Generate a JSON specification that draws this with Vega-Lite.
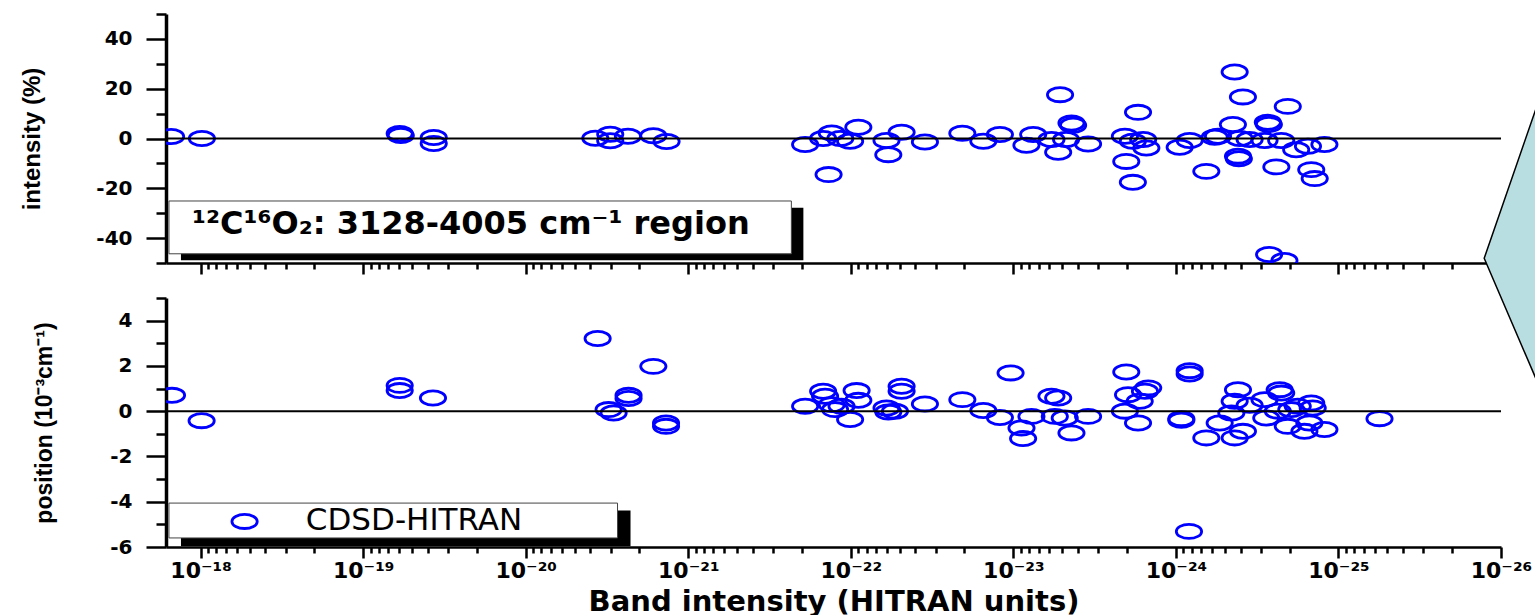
{
  "$schema": "https://vega.github.io/schema/vega-lite/v6.json",
  "background": "white",
  "padding": {"left": 20, "top": 12, "right": 5, "bottom": 5},
  "bounds": "flush",
  "spacing": 35,
  "config": {
    "view": {"stroke": null},
    "axis": {"grid": false, "domainColor": "black", "tickColor": "black", "labelColor": "black", "titleColor": "black"}
  },
  "datasets": {
    "intensity": [
      {"band_intensity": 1.52e-18, "deviation": 0.8}, {"band_intensity": 9.82e-19, "deviation": 0.0},
      {"band_intensity": 5.96e-20, "deviation": 2.0}, {"band_intensity": 5.87e-20, "deviation": 1.2},
      {"band_intensity": 3.68e-20, "deviation": 0.4}, {"band_intensity": 3.68e-20, "deviation": -2.0},
      {"band_intensity": 3.73e-21, "deviation": 0.1}, {"band_intensity": 3.02e-21, "deviation": 1.7},
      {"band_intensity": 3.02e-21, "deviation": -0.9}, {"band_intensity": 2.35e-21, "deviation": 0.9},
      {"band_intensity": 1.64e-21, "deviation": 1.1}, {"band_intensity": 1.36e-21, "deviation": -1.2},
      {"band_intensity": 1.91e-22, "deviation": -2.4}, {"band_intensity": 1.48e-22, "deviation": 0.0},
      {"band_intensity": 1.31e-22, "deviation": 2.2}, {"band_intensity": 1.37e-22, "deviation": -14.5},
      {"band_intensity": 1.16e-22, "deviation": 0.0}, {"band_intensity": 1.01e-22, "deviation": -1.1},
      {"band_intensity": 8.99e-23, "deviation": 4.5}, {"band_intensity": 6.03e-23, "deviation": -0.8},
      {"band_intensity": 5.88e-23, "deviation": -6.5}, {"band_intensity": 4.87e-23, "deviation": 2.5},
      {"band_intensity": 3.50e-23, "deviation": -1.4}, {"band_intensity": 2.06e-23, "deviation": 2.1},
      {"band_intensity": 1.53e-23, "deviation": -1.1}, {"band_intensity": 1.21e-23, "deviation": 1.6},
      {"band_intensity": 8.31e-24, "deviation": -2.7}, {"band_intensity": 7.55e-24, "deviation": 1.6},
      {"band_intensity": 5.83e-24, "deviation": -0.4}, {"band_intensity": 5.30e-24, "deviation": -5.5},
      {"band_intensity": 5.16e-24, "deviation": 17.6}, {"band_intensity": 4.39e-24, "deviation": 6.2},
      {"band_intensity": 4.29e-24, "deviation": 5.3}, {"band_intensity": 4.74e-24, "deviation": -0.4},
      {"band_intensity": 3.47e-24, "deviation": -2.2}, {"band_intensity": 2.06e-24, "deviation": 0.9},
      {"band_intensity": 1.84e-24, "deviation": -1.1}, {"band_intensity": 1.59e-24, "deviation": -0.4},
      {"band_intensity": 1.52e-24, "deviation": -3.8}, {"band_intensity": 1.71e-24, "deviation": 10.5},
      {"band_intensity": 2.02e-24, "deviation": -9.2}, {"band_intensity": 1.84e-24, "deviation": -17.6},
      {"band_intensity": 9.48e-25, "deviation": -3.5}, {"band_intensity": 8.23e-25, "deviation": -0.8},
      {"band_intensity": 6.50e-25, "deviation": -13.2}, {"band_intensity": 5.51e-25, "deviation": 0.9},
      {"band_intensity": 5.77e-25, "deviation": 0.5}, {"band_intensity": 4.35e-25, "deviation": 26.7},
      {"band_intensity": 3.87e-25, "deviation": 16.7}, {"band_intensity": 4.46e-25, "deviation": 5.6},
      {"band_intensity": 4.15e-25, "deviation": -7.1}, {"band_intensity": 4.10e-25, "deviation": -8.1},
      {"band_intensity": 4.05e-25, "deviation": 0.0}, {"band_intensity": 3.52e-25, "deviation": -0.4},
      {"band_intensity": 2.72e-25, "deviation": 6.5}, {"band_intensity": 2.68e-25, "deviation": 5.6},
      {"band_intensity": 2.85e-25, "deviation": -0.8}, {"band_intensity": 2.41e-25, "deviation": -11.4},
      {"band_intensity": 2.25e-25, "deviation": -0.8}, {"band_intensity": 2.05e-25, "deviation": 12.9},
      {"band_intensity": 1.82e-25, "deviation": -4.5}, {"band_intensity": 1.54e-25, "deviation": -3.1},
      {"band_intensity": 1.47e-25, "deviation": -12.5}, {"band_intensity": 1.40e-25, "deviation": -16.1},
      {"band_intensity": 1.22e-25, "deviation": -2.4}, {"band_intensity": 2.67e-25, "deviation": -46.6},
      {"band_intensity": 2.15e-25, "deviation": -49.0}
    ],
    "position": [
      {"band_intensity": 1.50e-18, "deviation": 0.70}, {"band_intensity": 9.86e-19, "deviation": -0.42},
      {"band_intensity": 5.96e-20, "deviation": 1.14}, {"band_intensity": 5.96e-20, "deviation": 0.91},
      {"band_intensity": 3.72e-20, "deviation": 0.58}, {"band_intensity": 3.61e-21, "deviation": 3.21},
      {"band_intensity": 1.64e-21, "deviation": 1.98}, {"band_intensity": 2.33e-21, "deviation": 0.70},
      {"band_intensity": 2.33e-21, "deviation": 0.56}, {"band_intensity": 3.09e-21, "deviation": 0.07},
      {"band_intensity": 2.88e-21, "deviation": -0.08}, {"band_intensity": 1.37e-21, "deviation": -0.52},
      {"band_intensity": 1.37e-21, "deviation": -0.67}, {"band_intensity": 1.91e-22, "deviation": 0.22},
      {"band_intensity": 1.48e-22, "deviation": 0.88}, {"band_intensity": 1.44e-22, "deviation": 0.66},
      {"band_intensity": 1.31e-22, "deviation": 0.29}, {"band_intensity": 1.14e-22, "deviation": 0.22},
      {"band_intensity": 1.25e-22, "deviation": 0.07}, {"band_intensity": 1.01e-22, "deviation": -0.37},
      {"band_intensity": 9.21e-23, "deviation": 0.91}, {"band_intensity": 8.99e-23, "deviation": 0.48},
      {"band_intensity": 6.03e-23, "deviation": 0.14}, {"band_intensity": 5.88e-23, "deviation": -0.04},
      {"band_intensity": 5.35e-23, "deviation": 0.0}, {"band_intensity": 4.87e-23, "deviation": 1.10},
      {"band_intensity": 4.87e-23, "deviation": 0.88}, {"band_intensity": 3.50e-23, "deviation": 0.32},
      {"band_intensity": 2.06e-23, "deviation": 0.51}, {"band_intensity": 1.53e-23, "deviation": 0.03},
      {"band_intensity": 1.21e-23, "deviation": -0.28}, {"band_intensity": 1.04e-23, "deviation": 1.69},
      {"band_intensity": 8.91e-24, "deviation": -0.74}, {"band_intensity": 8.71e-24, "deviation": -1.21},
      {"band_intensity": 7.74e-24, "deviation": -0.23}, {"band_intensity": 5.83e-24, "deviation": 0.66},
      {"band_intensity": 5.30e-24, "deviation": 0.58}, {"band_intensity": 5.56e-24, "deviation": -0.23},
      {"band_intensity": 4.83e-24, "deviation": -0.30}, {"band_intensity": 4.39e-24, "deviation": -0.96},
      {"band_intensity": 3.47e-24, "deviation": -0.23}, {"band_intensity": 2.02e-24, "deviation": 1.73},
      {"band_intensity": 8.23e-25, "deviation": 1.79}, {"band_intensity": 8.23e-25, "deviation": 1.64},
      {"band_intensity": 1.97e-24, "deviation": 0.73}, {"band_intensity": 1.67e-24, "deviation": 0.44},
      {"band_intensity": 1.48e-24, "deviation": 1.03}, {"band_intensity": 1.55e-24, "deviation": 0.88},
      {"band_intensity": 2.06e-24, "deviation": 0.0}, {"band_intensity": 1.71e-24, "deviation": -0.52},
      {"band_intensity": 9.26e-25, "deviation": -0.33}, {"band_intensity": 9.26e-25, "deviation": -0.40},
      {"band_intensity": 6.50e-25, "deviation": -1.18}, {"band_intensity": 5.38e-25, "deviation": -0.52},
      {"band_intensity": 4.15e-25, "deviation": 0.95}, {"band_intensity": 4.35e-25, "deviation": 0.44},
      {"band_intensity": 4.56e-25, "deviation": -0.08}, {"band_intensity": 3.52e-25, "deviation": 0.26},
      {"band_intensity": 3.87e-25, "deviation": -0.89}, {"band_intensity": 4.35e-25, "deviation": -1.18},
      {"band_intensity": 2.85e-25, "deviation": 0.51}, {"band_intensity": 2.78e-25, "deviation": -0.30},
      {"band_intensity": 2.30e-25, "deviation": 0.95}, {"band_intensity": 2.25e-25, "deviation": 0.80},
      {"band_intensity": 2.36e-25, "deviation": 0.0}, {"band_intensity": 2.05e-25, "deviation": -0.67},
      {"band_intensity": 1.95e-25, "deviation": 0.07}, {"band_intensity": 1.78e-25, "deviation": 0.22},
      {"band_intensity": 1.47e-25, "deviation": 0.36}, {"band_intensity": 1.44e-25, "deviation": 0.14},
      {"band_intensity": 1.51e-25, "deviation": -0.52}, {"band_intensity": 1.62e-25, "deviation": -0.89},
      {"band_intensity": 1.22e-25, "deviation": -0.81}, {"band_intensity": 5.59e-26, "deviation": -0.33},
      {"band_intensity": 8.31e-25, "deviation": -5.31}
    ]
  },
  "vconcat": [
    {
      "width": 1335,
      "height": 249,
      "resolve": {"axis": {"x": "independent", "y": "independent"}},
      "layer": [
        {
          "data": {"name": "intensity"},
          "mark": {"type": "point", "shape": "M-1,0A1,0.56,0,1,1,1,0A1,0.56,0,1,1,-1,0Z", "size": 640, "filled": false, "stroke": "#0000ff", "strokeWidth": 2.8, "opacity": 1, "clip": true},
          "encoding": {
            "x": {
              "field": "band_intensity", "type": "quantitative",
              "scale": {"type": "log", "domain": [1e-26, 1.633e-18], "reverse": true, "nice": false},
              "axis": {
                "orient": "bottom", "title": null, "labels": false,
                "values": [1e-18, 1e-19, 1e-20, 1e-21, 1e-22, 1e-23, 1e-24, 1e-25, 1e-26],
                "tickSize": 11, "tickWidth": 2.5, "domainWidth": 2.5
              }
            },
            "y": {
              "field": "deviation", "type": "quantitative",
              "scale": {"domain": [-50, 50], "nice": false},
              "axis": {
                "orient": "left",
                "title": "intensity (%)",
                "values": [-40, -20, 0, 20, 40],
                "labelExpr": "'' + datum.value",
                "tickSize": 20, "tickWidth": 2.5, "domainWidth": 3.5,
                "labelFont": "DejaVu Sans", "labelFontWeight": "bold", "labelFontSize": 20, "labelPadding": 14,
                "titleFont": "Liberation Sans", "titleFontWeight": "bold", "titleFontSize": 24,
                "titleX": -134, "titleBaseline": "middle"
              }
            }
          }
        },
        {
          "data": {"values": [{}]},
          "mark": {"type": "rule", "color": "black", "strokeWidth": 2},
          "encoding": {"y": {"datum": 0, "type": "quantitative", "axis": null}}
        },
        {
          "data": {"values": [{}]},
          "mark": {"type": "rect", "color": "black"},
          "encoding": {
            "x": {
              "datum": 1.321e-18, "type": "quantitative",
              "axis": {
                "orient": "bottom", "title": null, "labels": false, "domain": false,
                "values": [9e-19, 8e-19, 7e-19, 6e-19, 5e-19, 4e-19, 3e-19, 2e-19, 9e-20, 8e-20, 7e-20, 6e-20, 5e-20, 4e-20, 3e-20, 2e-20, 9e-21, 8e-21, 7e-21, 6e-21, 5e-21, 4e-21, 3e-21, 2e-21, 9e-22, 8e-22, 7e-22, 6e-22, 5e-22, 4e-22, 3e-22, 2e-22, 9e-23, 8e-23, 7e-23, 6e-23, 5e-23, 4e-23, 3e-23, 2e-23, 9e-24, 8e-24, 7e-24, 6e-24, 5e-24, 4e-24, 3e-24, 2e-24, 9e-25, 8e-25, 7e-25, 6e-25, 5e-25, 4e-25, 3e-25, 2e-25, 9e-26, 8e-26, 7e-26, 6e-26, 5e-26, 4e-26, 3e-26, 2e-26],
                "tickSize": 6, "tickWidth": 2.5
              }
            },
            "x2": {"datum": 1.958e-22},
            "y": {
              "datum": -27.8, "type": "quantitative",
              "axis": {
                "orient": "left", "title": null, "labels": false, "domain": false,
                "values": [-50, -30, -10, 10, 30, 50],
                "tickSize": 10, "tickWidth": 2.5
              }
            },
            "y2": {"datum": -48.9}
          }
        },
        {
          "data": {"values": [{}]},
          "mark": {"type": "rect", "fill": "white", "stroke": "#444444", "strokeWidth": 1},
          "encoding": {
            "x": {"datum": 1.566e-18, "type": "quantitative", "axis": null},
            "x2": {"datum": 2.321e-22},
            "y": {"datum": -25.1, "type": "quantitative", "axis": null},
            "y2": {"datum": -46.3}
          }
        },
        {
          "data": {"values": [{}]},
          "mark": {"type": "text", "text": "¹²C¹⁶O₂: 3128-4005 cm⁻¹ region", "align": "left", "baseline": "alphabetic", "font": "DejaVu Sans", "fontWeight": "bold", "fontSize": 32, "color": "black"},
          "encoding": {
            "x": {"datum": 1.131e-18, "type": "quantitative", "axis": null},
            "y": {"datum": -38.35, "type": "quantitative", "axis": null}
          }
        },
        {
          "data": {"values": [{}]},
          "mark": {"type": "point", "shape": "M-16.8,-4.7L60,-226.7L80,-226.7L80,174L60,174Z", "size": 4, "filled": true, "fill": "#b9dee2", "stroke": "black", "strokeWidth": 1.5, "opacity": 1},
          "encoding": {
            "x": {"datum": 1e-26, "type": "quantitative", "axis": null},
            "y": {"datum": -50, "type": "quantitative", "axis": null}
          }
        }
      ]
    },
    {
      "width": 1335,
      "height": 249,
      "resolve": {"axis": {"x": "independent", "y": "independent"}},
      "layer": [
        {
          "data": {"name": "position"},
          "mark": {"type": "point", "shape": "M-1,0A1,0.56,0,1,1,1,0A1,0.56,0,1,1,-1,0Z", "size": 640, "filled": false, "stroke": "#0000ff", "strokeWidth": 2.8, "opacity": 1, "clip": true},
          "encoding": {
            "x": {
              "field": "band_intensity", "type": "quantitative",
              "scale": {"type": "log", "domain": [1e-26, 1.633e-18], "reverse": true, "nice": false},
              "axis": {
                "orient": "bottom",
                "title": "Band intensity (HITRAN units)",
                "values": [1e-18, 1e-19, 1e-20, 1e-21, 1e-22, 1e-23, 1e-24, 1e-25, 1e-26],
                "labelExpr": "'10⁻' + substring('⁰¹²³⁴⁵⁶⁷⁸⁹', floor(-round(log(datum.value)/LN10)/10), floor(-round(log(datum.value)/LN10)/10) + 1) + substring('⁰¹²³⁴⁵⁶⁷⁸⁹', (-round(log(datum.value)/LN10)) % 10, (-round(log(datum.value)/LN10)) % 10 + 1)",
                "tickSize": 11, "tickWidth": 2.5, "domainWidth": 2.5,
                "labelFont": "DejaVu Sans", "labelFontWeight": "bold", "labelFontSize": 22, "labelPadding": 2,
                "labelFlush": false, "labelOverlap": false, "labelBound": false,
                "titleFont": "DejaVu Sans", "titleFontWeight": "bold", "titleFontSize": 29,
                "titleY": 63, "titleBaseline": "alphabetic"
              }
            },
            "y": {
              "field": "deviation", "type": "quantitative",
              "scale": {"domain": [-6, 5], "nice": false},
              "axis": {
                "orient": "left",
                "title": "position (10⁻³cm⁻¹)",
                "values": [-6, -4, -2, 0, 2, 4],
                "labelExpr": "'' + datum.value",
                "tickSize": 20, "tickWidth": 2.5, "domainWidth": 3.5,
                "labelFont": "DejaVu Sans", "labelFontWeight": "bold", "labelFontSize": 20, "labelPadding": 14,
                "titleFont": "Liberation Sans", "titleFontWeight": "bold", "titleFontSize": 23,
                "titleX": -122, "titleBaseline": "middle"
              }
            }
          }
        },
        {
          "data": {"values": [{}]},
          "mark": {"type": "rule", "color": "black", "strokeWidth": 2},
          "encoding": {"y": {"datum": 0, "type": "quantitative", "axis": null}}
        },
        {
          "data": {"values": [{}]},
          "mark": {"type": "rect", "color": "black"},
          "encoding": {
            "x": {
              "datum": 1.321e-18, "type": "quantitative",
              "axis": {
                "orient": "bottom", "title": null, "labels": false, "domain": false,
                "values": [9e-19, 8e-19, 7e-19, 6e-19, 5e-19, 4e-19, 3e-19, 2e-19, 9e-20, 8e-20, 7e-20, 6e-20, 5e-20, 4e-20, 3e-20, 2e-20, 9e-21, 8e-21, 7e-21, 6e-21, 5e-21, 4e-21, 3e-21, 2e-21, 9e-22, 8e-22, 7e-22, 6e-22, 5e-22, 4e-22, 3e-22, 2e-22, 9e-23, 8e-23, 7e-23, 6e-23, 5e-23, 4e-23, 3e-23, 2e-23, 9e-24, 8e-24, 7e-24, 6e-24, 5e-24, 4e-24, 3e-24, 2e-24, 9e-25, 8e-25, 7e-25, 6e-25, 5e-25, 4e-25, 3e-25, 2e-25, 9e-26, 8e-26, 7e-26, 6e-26, 5e-26, 4e-26, 3e-26, 2e-26],
                "tickSize": 6, "tickWidth": 2.5
              }
            },
            "x2": {"datum": 2.266e-21},
            "y": {
              "datum": -4.39, "type": "quantitative",
              "axis": {
                "orient": "left", "title": null, "labels": false, "domain": false,
                "values": [-5, -3, -1, 1, 3, 5],
                "tickSize": 10, "tickWidth": 2.5
              }
            },
            "y2": {"datum": -5.97}
          }
        },
        {
          "data": {"values": [{}]},
          "mark": {"type": "rect", "fill": "white", "stroke": "#444444", "strokeWidth": 1},
          "encoding": {
            "x": {"datum": 1.566e-18, "type": "quantitative", "axis": null},
            "x2": {"datum": 2.724e-21},
            "y": {"datum": -4.06, "type": "quantitative", "axis": null},
            "y2": {"datum": -5.60}
          }
        },
        {
          "data": {"values": [{}]},
          "mark": {"type": "point", "shape": "M-1,0A1,0.56,0,1,1,1,0A1,0.56,0,1,1,-1,0Z", "size": 640, "filled": false, "stroke": "#0000ff", "strokeWidth": 2.8, "opacity": 1},
          "encoding": {
            "x": {"datum": 5.365e-19, "type": "quantitative", "axis": null},
            "y": {"datum": -4.87, "type": "quantitative", "axis": null}
          }
        },
        {
          "data": {"values": [{}]},
          "mark": {"type": "text", "text": "CDSD-HITRAN", "align": "left", "baseline": "alphabetic", "font": "DejaVu Sans", "fontWeight": "normal", "fontSize": 31, "color": "black"},
          "encoding": {
            "x": {"datum": 2.253e-19, "type": "quantitative", "axis": null},
            "y": {"datum": -5.23, "type": "quantitative", "axis": null}
          }
        }
      ]
    }
  ]
}
